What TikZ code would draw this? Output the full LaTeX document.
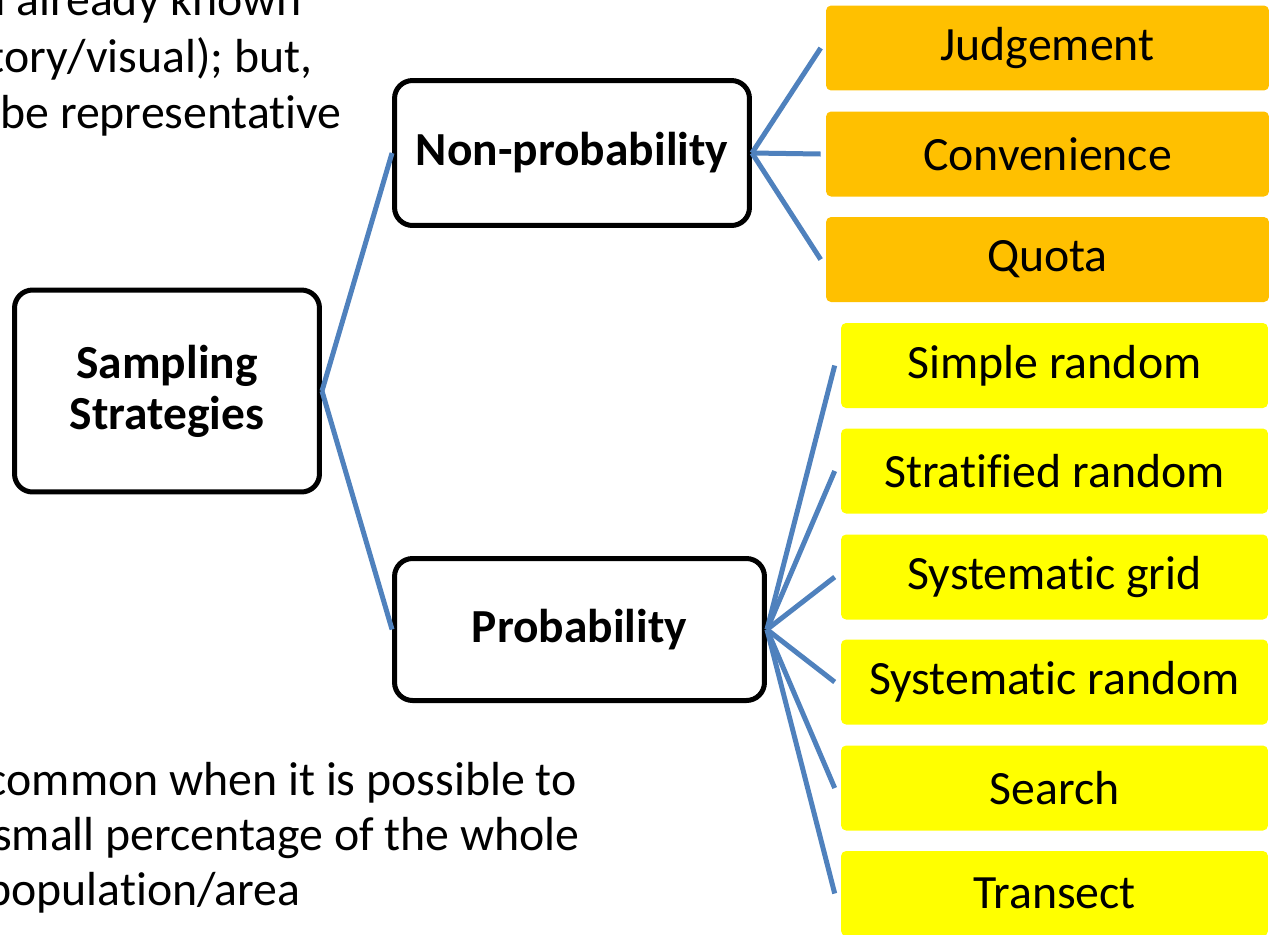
\documentclass[tikz,border=0pt]{standalone}
\usepackage{fontspec}
\setmainfont[Ligatures=NoCommon]{Carlito}
\usetikzlibrary{positioning}

\definecolor{boxorange}{HTML}{FFC000}
\definecolor{boxyellow}{HTML}{FFFF00}
\definecolor{lineblue}{HTML}{4F81BD}

\begin{document}
\begin{tikzpicture}[x=0.02cm, y=-0.02cm,
  every node/.style={font=\fontsize{27.2}{30}\selectfont},
  mainbox/.style={draw=black, line width=0.1cm, rounded corners=0.36cm, fill=white,
    align=center, font=\fontsize{27}{29}\selectfont\bfseries},
  nonbox/.style={fill=boxorange, rounded corners=0.1cm, minimum width=8.86cm, minimum height=1.7cm},
  probbox/.style={fill=boxyellow, rounded corners=0.1cm, minimum width=8.54cm, minimum height=1.7cm},
  branch/.style={draw=lineblue, line width=0.1cm}]
  % page frame
  \useasboundingbox (0,0) rectangle (1270,934);
  \clip (0,0) rectangle (1270,934);

  % cut-off slide text on the left
  \node[anchor=base east, inner sep=0] (known) at (302,15) {n already known};
  \node[anchor=base east, inner sep=0] (visual) at (313,72) {tory/visual); but,};
  \node[anchor=base east, inner sep=0] (repr) at (342,128) {be representative};
  \node[anchor=base east, inner sep=0] (common) at (577,795) {common when it is possible to};
  \node[anchor=base east, inner sep=0] (small) at (580,850) {small percentage of the whole};
  \node[anchor=base east, inner sep=0] (area) at (301,905) {population/area};

  % main boxes
  \node[mainbox, minimum width=6.1cm, minimum height=4.04cm] (sampling) at (167,391) {Sampling\\Strategies};
  \node[mainbox, minimum width=7.1cm, minimum height=2.9cm] (nonprob) at (572,153) {Non-probability};
  \node[mainbox, minimum width=7.4cm, minimum height=2.84cm] (prob) at (579.5,629.5) {Probability};

  % strategy boxes
  \foreach \name/\txt/\y in {judge/Judgement/48, conv/Convenience/154, quota/Quota/259.5}
    \node[nonbox] (\name) at (1047.5,\y) {\txt};
  \foreach \name/\txt/\y in {simple/Simple random/365.5, stratified/Stratified random/471,
      sysgrid/Systematic grid/577, sysrand/Systematic random/682, search/Search/788, transect/Transect/893.5}
    \node[probbox] (\name) at (1054.5,\y) {\txt};

  % connectors
  \draw[branch] (sampling.east) -- (nonprob.west);
  \draw[branch] (sampling.east) -- (prob.west);
  \foreach \name in {judge,conv,quota}
    \draw[branch] (nonprob.east) -- ([xshift=-0.1cm]\name.west);
  \foreach \name in {simple,stratified,sysgrid,sysrand,search,transect}
    \draw[branch] (prob.east) -- ([xshift=-0.12cm]\name.west);
\end{tikzpicture}
\end{document}
